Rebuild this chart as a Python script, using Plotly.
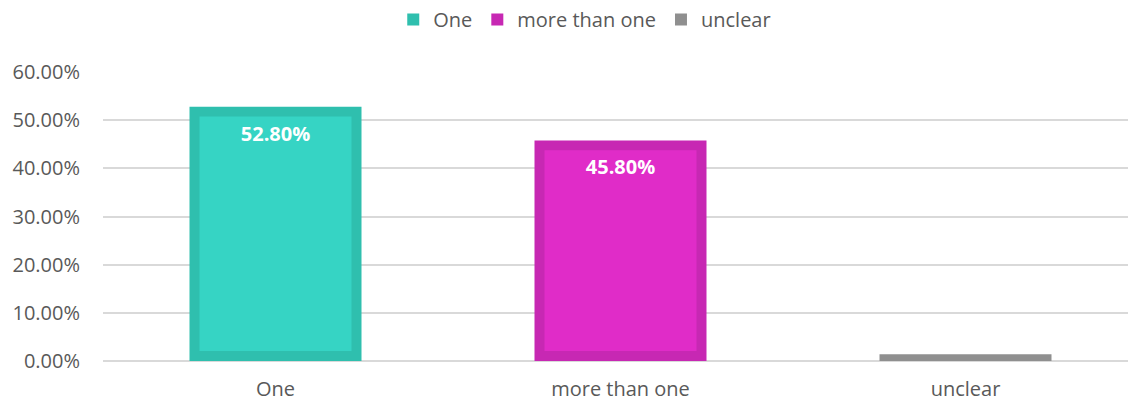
import plotly.graph_objects as go

categories = ["One", "more than one", "unclear"]
values = [0.528, 0.458, 0.014]
labels = ["52.80%", "45.80%", ""]
fill_colors = ["#36D4C4", "#E02CC8", "#999999"]
border_colors = ["#2FBFAE", "#C728B3", "#8F8F8F"]

W, H = 1128, 408
ml, mr, mt, mb = 103, 0, 70, 47
plot_h = H - mt - mb
y_max = 0.6
border_px = 10
border_val = border_px / plot_h * y_max
cat_px = 345
plot_w = W - ml - mr
x_span = plot_w / cat_px
outer_w = 172 / cat_px
inner_w = (172 - 2 * border_px) / cat_px

FONT = "Open Sans"
fig = go.Figure()
for c, v, fc, bc in zip(categories, values, fill_colors, border_colors):
    fig.add_trace(go.Bar(
        x=[c], y=[v], name=c, width=outer_w,
        marker=dict(color=bc, line=dict(width=0)),
        hoverinfo="skip", legendgroup=c,
    ))
for c, v, fc, lab in zip(categories, values, fill_colors, labels):
    inner_h = max(v - 2 * border_val, 0)
    fig.add_trace(go.Bar(
        x=[c], y=[inner_h], base=[border_val], width=inner_w,
        marker=dict(color=fc, line=dict(width=0)),
        text=[lab], textposition="inside", insidetextanchor="end",
        textfont=dict(color="white", size=20, family=FONT, weight="bold"),
        showlegend=False, legendgroup=c, hoverinfo="skip",
    ))

fig.update_layout(
    width=W, height=H,
    margin=dict(l=ml, r=mr, t=mt, b=mb, pad=0),
    barmode="overlay",
    plot_bgcolor="white", paper_bgcolor="white",
    font=dict(family=FONT, color="#595959", size=20),
    legend=dict(orientation="h", x=0.47, xanchor="center",
                y=1 + 53 / plot_h, yanchor="middle",
                font=dict(size=20, color="#595959", family=FONT),
                itemclick=False, traceorder="normal", itemwidth=30),
    xaxis=dict(range=[-0.5, -0.5 + x_span], showgrid=False, showline=False,
               ticks="", ticklabelstandoff=14,
               tickfont=dict(size=20, color="#595959", family=FONT)),
    yaxis=dict(range=[0, y_max], dtick=0.1, tickformat=".2%",
               showgrid=True, gridcolor="#D9D9D9", gridwidth=1.5,
               zeroline=True, zerolinecolor="#D9D9D9", zerolinewidth=1.5,
               ticks="", ticklabelstandoff=22,
               tickfont=dict(size=20, color="#595959", family=FONT)),
)
fig.write_html("out.html")
